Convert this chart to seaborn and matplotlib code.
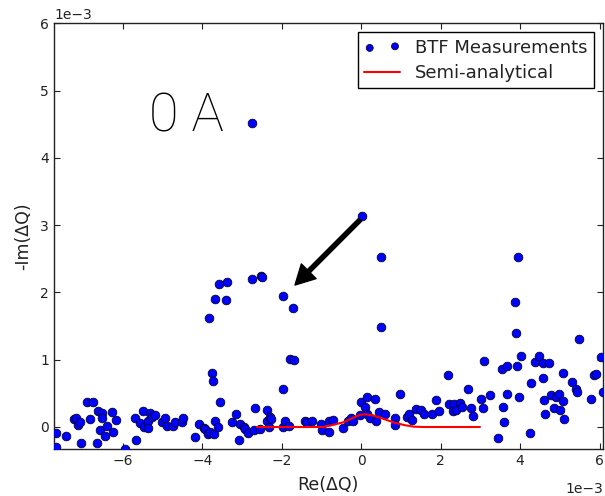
import matplotlib
matplotlib.use("Agg")
import matplotlib.pyplot as plt
import seaborn as sns
import numpy as np
import pandas as pd
from matplotlib.ticker import MultipleLocator

# BTF measurements (units of 1e-3)
re_meas = [-7.69, -7.45, -7.69, -7.24, -7.19, -7.14, -7.09, -7.06, -6.92, -6.83,
           -6.77, -6.66, -6.63, -6.58, -6.54, -6.53, -6.45, -6.41, -6.28, -6.26,
           -6.18, -5.96, -5.71, -5.68, -5.57, -5.50, -5.47, -5.38, -5.37, -5.32,
           -5.27, -5.20, -5.02, -4.94, -4.90, -4.74, -4.69, -4.52, -4.49, -4.19,
           -4.09, -3.96, -3.93, -3.87, -3.80, -3.72, -3.69, -3.61, -3.56, -3.76,
           -3.74, -3.84, -3.69, -3.58, -3.39, -3.41, -2.76, -2.53, -2.51, -3.26,
           -3.16, -3.08, -3.06, -2.95, -2.93, -2.85, -2.70, -2.68, -2.55, -2.38,
           -2.38, -2.33, -2.30, -2.27, -1.97, -1.73, -1.80, -1.70, -1.98, -1.98,
           -1.92, -1.83, -2.76, 0.01, 0.49, 0.49, 3.94, 3.86, 3.89, 5.48,
           -1.43, -1.38, -1.23, -1.02, -0.99, -0.82, -0.82, -0.72, -0.47, -0.33,
           -0.26, -0.20, -0.03, 0.00, 0.09, 0.14, 0.14, 0.23, 0.34, 0.38,
           0.44, 0.59, 0.86, 0.84, 0.98, 1.15, 1.21, 1.27, 1.38, 1.51,
           1.59, 1.79, 1.87, 1.96, 2.19, 2.21, 2.30, 2.34, 2.39, 2.49,
           2.54, 2.68, 2.77, 2.81, 3.02, 3.06, 3.08, 3.25, 3.44, 3.54,
           3.57, 3.60, 3.66, 3.67, 3.93, 3.96, 4.01, 4.24, 4.27, 4.38,
           4.47, 4.58, 4.72, 4.58, 4.61, 4.63, 4.78, 4.86, 4.90, 4.98,
           5.01, 5.07, 5.07, 5.11, 5.31, 5.41, 5.43, 5.79, 5.86, 5.90,
           6.04, 6.08]
im_meas = [-0.085, -0.13, -0.30, 0.12, 0.13, 0.03, 0.07, -0.24, 0.37, 0.12,
           0.37, -0.24, 0.24, -0.045, 0.21, 0.13, -0.13, 0.02, 0.23, -0.074,
           0.10, -0.32, 0.14, -0.19, 0.06, 0.24, 0.004, 0.09, -0.015, 0.21,
           0.15, 0.18, 0.07, 0.14, 0.015, 0.02, 0.07, 0.08, 0.14, -0.15,
           0.045, -0.015, -0.03, -0.10, -0.07, -0.10, 0.09, 0.005, 0.37, 0.80,
           0.69, 1.62, 1.90, 2.12, 2.16, 1.89, 2.20, 2.24, 2.23, 0.08,
           0.19, -0.19, 0.045, 0.004, -0.025, -0.085, -0.045, 0.28, -0.03, 0.25,
           0.09, 0.0, 0.15, 0.12, 1.94, 1.77, 1.01, 1.00, 0.57, 0.004,
           0.09, 0.015, 4.52, 3.14, 2.52, 1.49, 2.53, 1.86, 1.39, 1.31,
           0.09, 0.07, 0.085, 0.05, -0.045, 0.09, -0.08, 0.11, -0.01, 0.09,
           0.13, 0.09, 0.18, 0.37, 0.29, 0.44, 0.19, 0.13, 0.42, 0.09,
           0.23, 0.19, 0.14, 0.03, 0.49, 0.15, 0.19, 0.10, 0.27, 0.25,
           0.20, 0.19, 0.40, 0.24, 0.78, 0.34, 0.24, 0.34, 0.25, 0.36,
           0.29, 0.56, 0.28, 0.17, 0.41, 0.28, 0.98, 0.48, -0.17, 0.86,
           0.30, 0.08, 0.91, 0.49, 0.91, 0.44, 1.05, -0.09, 0.66, 0.97,
           1.05, 0.95, 0.95, 0.73, 0.40, 0.20, 0.47, 0.28, 0.44, 0.49,
           0.25, 0.38, 0.80, 0.12, 0.67, 0.56, 0.52, 0.41, 0.78, 0.79,
           1.04, 0.52]

# Semi-analytical curve (units of 1e-3)
re_model = [-2.63, -1.54, -0.95, -0.79, -0.45, -0.20, -0.03, 0.09, 0.31, 0.56,
            0.81, 1.07, 1.32, 1.57, 2.99]
im_model = [0.0, 0.0, 0.0, 0.02, 0.07, 0.14, 0.18, 0.19, 0.17, 0.12,
            0.07, 0.03, 0.005, 0.0, 0.0]

scale = 1e-3
meas = pd.DataFrame({"re": np.array(re_meas) * scale, "im": np.array(im_meas) * scale})
model = pd.DataFrame({"re": np.array(re_model) * scale, "im": np.array(im_model) * scale})

sns.set_style("white")
plt.rcParams.update({
    "font.family": ["DejaVu Sans"],
    "xtick.direction": "in", "ytick.direction": "in",
    "xtick.top": True, "ytick.right": True,
    "xtick.bottom": True, "ytick.left": True,
    "xtick.major.size": 4, "ytick.major.size": 4,
    "xtick.major.width": 0.8, "ytick.major.width": 0.8,
    "xtick.color": "#222222", "ytick.color": "#222222",
    "axes.edgecolor": "#222222", "axes.linewidth": 1.0,
    "xtick.labelsize": 10, "ytick.labelsize": 10,
    "text.color": "#222222", "axes.labelcolor": "#222222",
})

fig = plt.figure(figsize=(6.05, 4.96), dpi=100)
ax = fig.add_axes([54 / 605, 1 - 449 / 496, (602.7 - 54) / 605, (449 - 23.3) / 496])

sns.scatterplot(data=meas, x="re", y="im", ax=ax, color="#0000ff", edgecolor="black",
                linewidth=0.5, s=40, label="BTF Measurements", zorder=3, clip_on=True)
sns.lineplot(data=model, x="re", y="im", ax=ax, color="red", linewidth=1.5, sort=False,
             label="Semi-analytical", zorder=4)

ax.set_xlim(-7.74e-3, 6.08e-3)
ax.set_ylim(-0.327e-3, 6.0e-3)
ax.xaxis.set_major_locator(MultipleLocator(2e-3))
ax.yaxis.set_major_locator(MultipleLocator(1e-3))
ax.ticklabel_format(style="sci", scilimits=(0, 0), axis="both")
ax.xaxis.get_offset_text().set_fontsize(10)
ax.yaxis.get_offset_text().set_fontsize(10)
ax.xaxis.OFFSETTEXTPAD = 10

ax.set_xlabel("Re(ΔQ)", fontsize=12.5, labelpad=5.5)
ax.set_ylabel("-Im(ΔQ)", fontsize=12.5, labelpad=6)

ax.text(-4.40e-3, 4.39e-3, "0 A", fontsize=39, ha="center", va="baseline",
        family=["Roboto", "DejaVu Sans"], fontweight="light", color="black")

ax.annotate("", xy=(-1.67e-3, 2.11e-3), xytext=(-0.03e-3, 3.08e-3),
            arrowprops=dict(facecolor="black", edgecolor="black", width=3,
                            headwidth=15, headlength=14, shrink=0.0), zorder=5)

leg = ax.legend(loc="upper right", fontsize=13, scatterpoints=2, markerscale=0.8,
                frameon=True, fancybox=False, framealpha=1, edgecolor="black",
                borderaxespad=0.5, handlelength=2.0, borderpad=0.35, labelspacing=0.4)
leg.get_frame().set_linewidth(1.0)

fig.savefig("out.png", dpi=100)
